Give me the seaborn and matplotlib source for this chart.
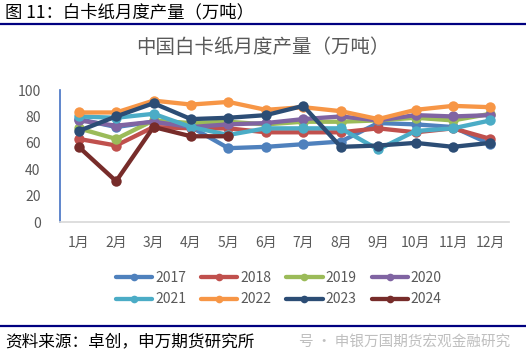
import pandas as pd
import matplotlib
matplotlib.use("Agg")
import matplotlib.pyplot as plt
import seaborn as sns

# monthly output of white cardboard in China (10k tonnes)
months = ["1月", "2月", "3月", "4月", "5月", "6月", "7月", "8月", "9月", "10月", "11月", "12月"]
years = ["2017", "2018", "2019", "2020", "2021", "2022", "2023", "2024"]
v2017 = [78, 72, 76, 72, 56, 57, 59, 61, 75, 74, 72, 59]
v2018 = [63, 58, 72, 71, 71, 68, 68, 68, 71, 68, 71, 63]
v2019 = [71, 63, 77, 75, 76, 74, 76, 76, 77, 79, 77, 82]
v2020 = [77, 73, 76, 72, 74, 75, 78, 80, 77, 81, 80, 81]
v2021 = [80, 79, 82, 72, 66, 71, 71, 71, 55, 69, 71, 77]
v2022 = [83, 83, 92, 89, 91, 85, 87, 84, 78, 85, 88, 87]
v2023 = [69, 80, 90, 78, 79, 81, 88, 57, 58, 60, 57, 60]
v2024 = [57, 31, 72, 65, 65]
colors = ["#4F81BD", "#C0504D", "#9BBB59", "#8064A2", "#4BACC6", "#F79646", "#2C4D75", "#772C2A"]

series = [v2017, v2018, v2019, v2020, v2021, v2022, v2023, v2024]
rows = []
for yr, vals in zip(years, series):
    for i, v in enumerate(vals):
        rows.append({"month": i + 1, "year": yr, "value": v})
df = pd.DataFrame(rows)

sns.set_theme(style="white")
plt.rcParams["font.family"] = ["Noto Sans CJK SC", "DejaVu Sans"]

fig = plt.figure(figsize=(5.26, 3.63), dpi=100)
ax = fig.add_axes([0.114, 0.388, 0.854, 0.364])

sns.lineplot(data=df, x="month", y="value", hue="year", hue_order=years,
             palette=colors, marker="o", markersize=7.5, markeredgewidth=0,
             linewidth=3.1, ax=ax, legend=True)

handles, labels = ax.get_legend_handles_labels()
ax.get_legend().remove()
# legend fills column by column, so interleave to get rows 2017-2020 / 2021-2024
order = [0, 4, 1, 5, 2, 6, 3, 7]
handles = [handles[i] for i in order]
labels = [labels[i] for i in order]

ax.set_xlim(0.5, 12.5)
ax.set_ylim(0, 100)
ax.set_yticks(range(0, 101, 20))
ax.set_xticks(range(1, 13))
ax.set_xticklabels(months)
ax.set_xlabel("")
ax.set_ylabel("")
ax.tick_params(axis="both", colors="#595959", labelsize=10)
ax.tick_params(axis="y", direction="in", length=4, color="#4472C4", pad=14)
ax.tick_params(axis="x", length=0, pad=10)
for s in ["top", "right"]:
    ax.spines[s].set_visible(False)
ax.spines["left"].set_color("#4472C4")
ax.spines["left"].set_linewidth(1.2)
ax.spines["bottom"].set_color("#D9D9D9")

fig.text(0.5, 0.868, "中国白卡纸月度产量（万吨）", ha="center", va="center",
         fontsize=14, color="#595959")

leg = fig.legend(handles, labels, loc="center", bbox_to_anchor=(0.53, 0.205),
                 ncol=4, frameon=False, fontsize=10, handlelength=2.6,
                 handletextpad=0.2, columnspacing=1.1, labelspacing=0.55)
for t in leg.get_texts():
    t.set_color("#595959")
for h in leg.legend_handles:
    h.set_markersize(5.5)

# report caption, rules and source line
fig.text(0.01, 0.965, "图 11：白卡纸月度产量（万吨）", ha="left", va="center",
         fontsize=12.5, color="black")
fig.add_artist(plt.Line2D([0, 1], [0.934, 0.934], color="#000080", linewidth=1.6))
fig.add_artist(plt.Line2D([0, 1], [0.103, 0.103], color="#000080", linewidth=1.6))
fig.text(0.01, 0.058, "资料来源：卓创，申万期货研究所", ha="left", va="center",
         fontsize=12, color="black")
fig.text(0.97, 0.058, "号 · 申银万国期货宏观金融研究", ha="right", va="center",
         fontsize=10.5, color="#BFBFBF")

fig.savefig("out.png", dpi=100)
